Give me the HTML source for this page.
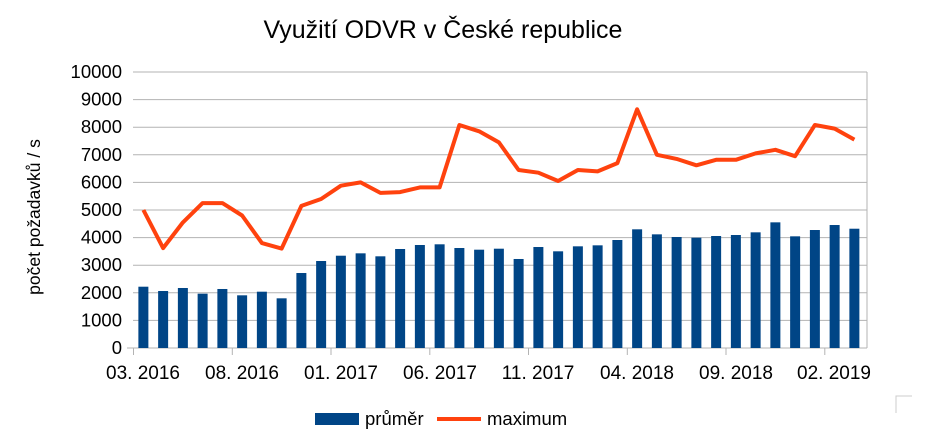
<!DOCTYPE html>
<html><head><meta charset="utf-8"><style>
html,body{margin:0;padding:0;background:#fff;}
svg{display:block;font-family:"Liberation Sans",sans-serif;}
</style></head><body>
<svg width="942" height="437" viewBox="0 0 942 437" xmlns="http://www.w3.org/2000/svg">
<rect width="942" height="437" fill="#fff"/>
<text x="443" y="38" font-size="25" text-anchor="middle" fill="#000">Využití ODVR v České republice</text>
<g stroke="#b3b3b3" stroke-width="1">
<line x1="133" y1="72" x2="867" y2="72"/><line x1="133" y1="99.6" x2="867" y2="99.6"/><line x1="133" y1="127.2" x2="867" y2="127.2"/><line x1="133" y1="154.8" x2="867" y2="154.8"/><line x1="133" y1="182.4" x2="867" y2="182.4"/><line x1="133" y1="210" x2="867" y2="210"/><line x1="133" y1="237.6" x2="867" y2="237.6"/><line x1="133" y1="265.2" x2="867" y2="265.2"/><line x1="133" y1="292.8" x2="867" y2="292.8"/><line x1="133" y1="320.4" x2="867" y2="320.4"/><line x1="133" y1="348" x2="867" y2="348"/>
<line x1="867" y1="72" x2="867" y2="348"/>
<line x1="127" y1="348" x2="133" y2="348"/>
</g>
<g font-size="18.5" text-anchor="end" fill="#000">
<text x="122" y="78">10000</text><text x="122" y="105.6">9000</text><text x="122" y="133.2">8000</text><text x="122" y="160.8">7000</text><text x="122" y="188.4">6000</text><text x="122" y="216">5000</text><text x="122" y="243.6">4000</text><text x="122" y="271.2">3000</text><text x="122" y="298.8">2000</text><text x="122" y="326.4">1000</text><text x="122" y="354">0</text>
</g>
<text transform="translate(40,217) rotate(-90)" font-size="17.5" text-anchor="middle">počet požadavků / s</text>
<g id="bars" fill="#004586"></g>
<g stroke="#b3b3b3"><line x1="133.5" y1="348" x2="133.5" y2="355"/><line x1="232.3" y1="348" x2="232.3" y2="355"/><line x1="331" y1="348" x2="331" y2="355"/><line x1="429.8" y1="348" x2="429.8" y2="355"/><line x1="528.5" y1="348" x2="528.5" y2="355"/><line x1="627.3" y1="348" x2="627.3" y2="355"/><line x1="726" y1="348" x2="726" y2="355"/><line x1="824.8" y1="348" x2="824.8" y2="355"/></g>
<g font-size="19" text-anchor="middle" fill="#000">
<text x="143" y="379">03. 2016</text><text x="242" y="379">08. 2016</text><text x="341" y="379">01. 2017</text><text x="440" y="379">06. 2017</text><text x="538" y="379">11. 2017</text><text x="637" y="379">04. 2018</text><text x="736" y="379">09. 2018</text><text x="834" y="379">02. 2019</text>
</g>
<polyline id="line" fill="none" stroke="#ff420e" stroke-width="4" stroke-linejoin="round" points=""/>
<rect x="315" y="413" width="44" height="12" fill="#004586"/>
<text x="365" y="425" font-size="18.5">průměr</text>
<line x1="437" y1="419" x2="481" y2="419" stroke="#ff420e" stroke-width="4"/>
<text x="487" y="425" font-size="18.5">maximum</text>
<path d="M896 413 V396 H912" fill="none" stroke="#ccc" stroke-width="1"/>
<script>
var b=[2221,2065,2174,1968,2138,1909,2040,1800,2717,3152,3344,3430,3322,3587,3732,3757,3623,3562,3598,3225,3659,3503,3684,3720,3913,4300,4118,4022,3997,4058,4094,4191,4553,4046,4275,4456,4322];
var m=[5000,3620,4550,5250,5250,4800,3800,3600,5150,5400,5880,6000,5620,5650,5820,5820,8080,7850,7450,6450,6350,6050,6450,6400,6700,8650,7000,6850,6620,6820,6820,7050,7180,6950,8080,7950,7550];
var g=document.getElementById('bars'),ns='http://www.w3.org/2000/svg',pts=[];
for(var i=0;i<37;i++){var cx=133.5+19.75*(i+0.5);var h=b[i]*0.0276;var r=document.createElementNS(ns,'rect');r.setAttribute('x',cx-5);r.setAttribute('y',348-h);r.setAttribute('width',10);r.setAttribute('height',h);g.appendChild(r);pts.push(cx.toFixed(1)+','+(348-m[i]*0.0276).toFixed(1));}
document.getElementById('line').setAttribute('points',pts.join(' '));
</script>
</svg>
</body></html>
